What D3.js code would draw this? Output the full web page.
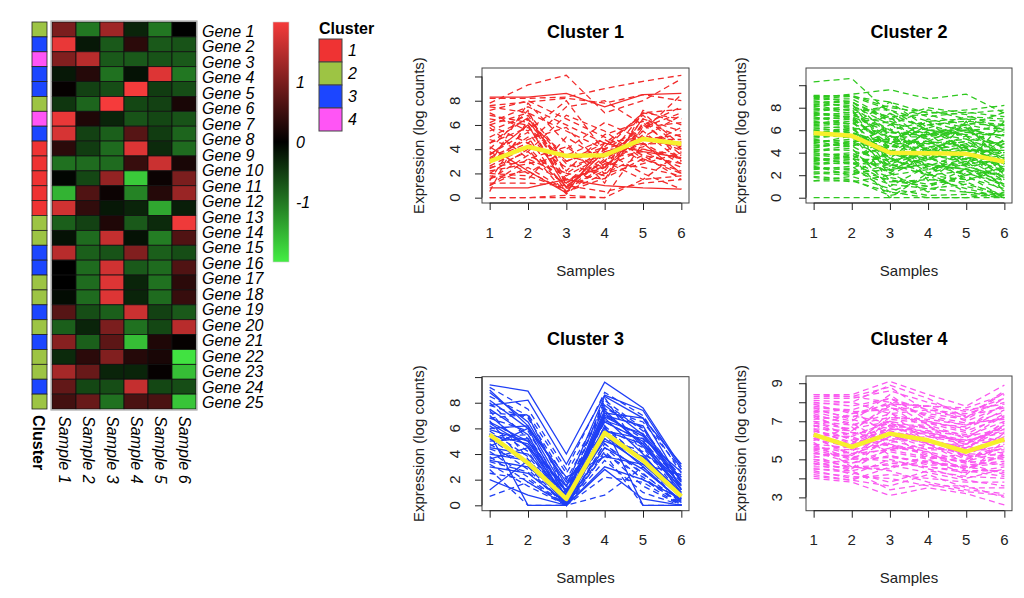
<!DOCTYPE html>
<html>
<head>
<meta charset="utf-8">
<script src="https://cdn.jsdelivr.net/npm/d3@7"></script>
<style>
  body { margin: 0; background: #fff; }
  svg { display: block; font-family: "Liberation Sans", Arial, sans-serif; }
</style>
</head>
<body>
<div id="chart"></div>
<script>
// ---- data ----
const sampleNames = ["Sample 1", "Sample 2", "Sample 3", "Sample 4", "Sample 5", "Sample 6"];
const geneNames = d3.range(1, 26).map(i => "Gene " + i);
const clusterIds = [1, 2, 3, 4];
const clusterColors = ["#ef3333", "#9dc444", "#1c46ff", "#ff55f5"];

// scaled expression per heatmap row (rows top to bottom), one value per sample
const heatValues = [
  [1.0, -1.0, 1.3, -0.3, -1.0, 0.0],
  [1.9, -0.2, -0.75, 0.35, -0.75, -0.7],
  [1.05, 1.5, -0.75, -0.75, -0.7, -0.75],
  [-0.2, 0.3, -0.95, -0.15, 1.8, -1.0],
  [0.05, -0.55, -0.65, 2.0, -0.5, -0.65],
  [-0.45, -0.85, 2.0, -0.6, -0.55, 0.2],
  [1.9, 0.25, -0.3, -0.7, -0.6, -0.7],
  [1.75, -0.55, -0.8, 0.7, -0.5, -0.85],
  [0.35, -0.5, -0.9, 1.8, -0.35, -0.9],
  [-0.95, -0.9, -0.9, 0.45, 1.65, 0.2],
  [-0.05, -0.6, 1.2, -1.7, 0.1, 1.0],
  [-1.5, 0.65, 0.1, -1.1, 0.3, 1.25],
  [1.7, 0.4, -0.2, -0.3, -1.4, -0.25],
  [-0.8, -0.55, 0.25, -0.75, -0.35, 1.95],
  [-0.15, -0.9, 1.6, -0.15, -1.05, 0.65],
  [1.5, -0.8, -0.7, 1.05, -0.8, -0.65],
  [0.0, -0.9, 1.7, -0.75, -0.9, 0.65],
  [0.0, -0.9, 1.8, -0.3, -0.95, 0.35],
  [-0.1, -0.9, 1.8, -0.3, -0.9, 0.45],
  [0.7, -0.65, -0.8, 1.65, -0.55, -0.75],
  [-0.8, -0.3, 1.0, -0.95, -0.6, 1.5],
  [1.1, -0.8, 0.75, -1.6, 0.25, 0.05],
  [-0.35, 0.35, 1.05, 0.3, 0.2, -1.9],
  [1.35, 0.85, -0.3, -0.3, 0.05, -1.6],
  [0.8, -0.6, -0.65, 1.6, -0.6, -0.65],
  [0.55, 0.85, -0.95, 0.6, 0.6, -1.65]
];
const rowClusters = [2, 3, 4, 3, 3, 2, 4, 3, 1, 1, 1, 1, 1, 2, 2, 3, 3, 2, 2, 3, 2, 3, 2, 2, 3, 2];
const colorbarTicks = [1, 0, -1];

// cluster profile panels
const samples = [1, 2, 3, 4, 5, 6];

const cluster1Lines = [
  [8.3, 8.3, 8.6, 7.5, 8.5, 8.6], [8.2, 8.2, 8.3, 9.0, 9.6, 10.1], [7.8, 9.3, 10.1, 7.0, 8.0, 9.8],
  [7.6, 7.9, 8.2, 7.8, 8.5, 8.0], [7.5, 7.0, 5.5, 4.0, 7.0, 7.3], [6.8, 6.2, 3.5, 2.5, 6.5, 5.5],
  [6.2, 7.5, 6.0, 4.5, 5.0, 6.8], [5.5, 6.8, 2.0, 1.5, 6.2, 3.5], [5.0, 6.5, 1.5, 2.5, 4.0, 3.2],
  [4.5, 5.8, 3.0, 4.5, 6.8, 4.0], [4.0, 7.2, 1.0, 3.0, 6.0, 7.5], [3.5, 6.0, 0.8, 3.8, 4.5, 2.0],
  [3.2, 4.5, 2.5, 3.5, 5.5, 3.0], [3.0, 5.0, 0.5, 2.0, 3.5, 1.5], [2.8, 7.8, 4.5, 1.2, 7.2, 6.0],
  [2.5, 3.0, 1.2, 4.0, 4.0, 3.5], [2.2, 2.8, 3.5, 4.8, 3.0, 4.5], [2.0, 4.0, 0.3, 2.8, 2.5, 1.8],
  [1.8, 1.5, 5.0, 3.0, 1.5, 3.8], [1.5, 3.5, 2.0, 4.0, 5.0, 4.2], [1.2, 1.2, 1.0, 0.5, 1.2, 1.5],
  [1.0, 2.5, 0.6, 3.2, 3.8, 2.5], [0.8, 0.8, 1.5, 1.0, 0.8, 0.7], [0.5, 6.5, 3.0, 4.2, 7.0, 6.5],
  [0.0, 0.0, 0.2, 0.0, 1.5, 1.8], [0.0, 0.0, 0.0, 0.0, 4.5, 2.8], [6.0, 4.5, 7.5, 8.0, 6.0, 4.0],
  [4.8, 3.8, 6.8, 5.5, 3.2, 2.2], [3.8, 2.0, 4.0, 6.2, 4.8, 5.2], [7.0, 5.5, 8.0, 3.8, 2.0, 0.7],
  [2.6, 4.2, 0.9, 2.2, 6.5, 3.0], [5.8, 3.2, 1.8, 3.5, 4.2, 5.8], [1.4, 6.2, 2.8, 1.8, 5.8, 7.0],
  [4.2, 2.2, 0.4, 4.5, 3.8, 3.3], [3.3, 4.8, 5.8, 2.5, 4.8, 4.8], [7.2, 8.0, 6.5, 5.0, 3.5, 2.8],
  [2.0, 1.8, 0.7, 2.5, 5.5, 8.5], [6.5, 6.0, 1.2, 3.0, 7.0, 4.3], [1.0, 3.2, 4.2, 2.0, 2.8, 3.7],
  [4.5, 6.6, 2.2, 5.2, 6.3, 5.0], [3.6, 5.4, 1.4, 2.6, 5.2, 3.9], [2.4, 3.8, 0.9, 3.4, 4.4, 4.6],
  [6.0, 7.0, 3.0, 4.0, 5.8, 6.2], [1.6, 2.2, 0.5, 1.6, 3.2, 2.0]
];
const cluster1Mean = [3.0, 4.2, 3.45, 3.5, 4.85, 4.45];

const cluster2Lines = [
  [10.3, 10.6, 7.5, 6.0, 5.5, 4.5], [0.0, 0.0, 0.0, 0.0, 0.0, 0.0], [9.1, 9.0, 8.5, 7.5, 7.8, 8.2],
  [8.9, 9.2, 9.6, 8.8, 9.2, 7.5], [8.7, 8.8, 7.0, 6.5, 6.8, 6.5], [8.5, 8.6, 5.5, 4.5, 5.0, 3.5],
  [8.3, 8.2, 6.5, 7.8, 7.0, 6.0], [8.1, 8.4, 4.0, 3.5, 4.8, 2.5], [7.9, 7.8, 7.8, 6.0, 6.0, 5.5],
  [7.7, 7.9, 3.0, 5.0, 3.5, 4.0], [7.5, 7.4, 6.0, 4.2, 5.5, 2.0], [7.3, 7.6, 5.0, 6.8, 4.0, 5.0],
  [7.1, 7.0, 2.5, 3.0, 2.5, 1.5], [6.9, 7.2, 4.5, 5.5, 6.5, 3.0], [6.7, 6.6, 7.2, 4.0, 3.0, 6.8],
  [6.5, 6.8, 3.5, 2.0, 4.5, 0.5], [6.3, 6.2, 5.8, 5.8, 5.2, 4.8], [6.1, 6.4, 2.0, 3.8, 1.5, 2.8],
  [5.9, 5.8, 4.8, 7.0, 6.2, 3.8], [5.7, 6.0, 6.8, 2.5, 3.2, 1.0], [5.5, 5.4, 3.8, 4.8, 5.8, 5.5],
  [5.3, 5.6, 1.5, 1.0, 2.0, 0.0], [5.1, 5.0, 5.2, 6.2, 4.2, 4.2], [4.9, 5.2, 4.2, 3.2, 6.8, 2.2],
  [4.7, 4.6, 2.8, 5.2, 2.8, 3.2], [4.5, 4.8, 6.2, 1.5, 4.0, 1.8], [4.3, 4.2, 3.2, 4.5, 5.0, 6.0],
  [4.1, 4.4, 1.0, 2.8, 1.0, 0.2], [3.9, 3.8, 4.5, 6.5, 5.5, 2.5], [3.7, 4.0, 2.2, 0.5, 2.2, 1.2],
  [3.5, 3.4, 5.5, 3.5, 3.8, 4.5], [3.3, 3.6, 0.0, 2.2, 0.5, 0.0], [3.1, 3.0, 3.0, 4.0, 4.5, 3.0],
  [2.9, 3.2, 1.8, 1.2, 1.8, 0.8], [2.7, 2.6, 4.0, 5.8, 3.0, 5.2], [2.5, 2.8, 0.5, 1.8, 0.8, 0.0],
  [2.3, 2.2, 2.5, 3.0, 2.5, 2.0], [2.1, 2.4, 1.2, 0.8, 1.2, 0.3], [1.8, 1.4, 2.0, 2.5, 3.5, 1.5],
  [1.5, 1.9, 0.8, 0.2, 0.3, 0.0], [9.0, 8.5, 7.0, 8.0, 7.5, 7.8], [8.0, 7.5, 8.2, 7.2, 7.6, 7.2],
  [7.2, 6.5, 8.5, 6.2, 7.2, 7.0], [6.0, 5.5, 7.5, 5.0, 6.5, 5.8], [5.0, 4.5, 6.5, 5.2, 6.0, 6.2],
  [4.4, 5.0, 5.0, 4.2, 4.8, 3.5], [3.6, 3.0, 3.8, 3.8, 3.2, 3.8], [2.8, 2.0, 4.2, 2.8, 4.0, 2.7],
  [6.6, 7.0, 4.8, 4.8, 5.2, 4.0], [5.6, 6.2, 3.5, 6.0, 4.5, 5.0], [4.8, 5.5, 2.8, 3.5, 2.8, 1.8],
  [7.4, 7.2, 5.8, 5.5, 6.0, 4.5], [3.2, 3.8, 2.2, 4.5, 3.8, 2.2], [6.2, 5.8, 4.2, 3.0, 2.0, 3.2],
  [1.5, 1.5, 0.5, 0.0, 0.0, 0.5], [8.6, 8.0, 6.0, 6.8, 5.8, 6.5],
  [8.8, 9.0, 7.8, 6.8, 7.0, 6.8], [8.4, 8.5, 6.8, 5.6, 6.2, 5.2], [8.2, 7.7, 5.2, 4.8, 4.2, 4.0],
  [7.8, 8.1, 7.2, 7.4, 6.4, 7.6], [7.6, 7.1, 4.4, 2.2, 3.0, 1.2], [7.0, 7.3, 6.6, 6.0, 5.6, 5.6],
  [6.8, 6.3, 3.2, 4.2, 3.6, 2.4], [6.4, 6.6, 5.4, 5.4, 6.0, 4.4], [6.0, 6.1, 4.0, 2.8, 2.6, 3.6],
  [5.8, 5.3, 5.0, 5.0, 4.6, 3.0], [5.4, 5.8, 2.4, 3.4, 4.4, 1.6], [5.2, 4.7, 4.6, 4.4, 3.4, 4.8],
  [4.6, 4.9, 3.6, 2.0, 2.4, 0.6], [4.2, 4.6, 5.8, 5.6, 6.6, 6.4], [3.8, 3.5, 2.6, 3.6, 2.0, 2.6],
  [3.4, 3.1, 1.4, 1.6, 1.4, 0.0], [3.0, 3.4, 3.4, 2.6, 3.0, 3.4], [2.6, 2.5, 1.6, 1.0, 2.6, 1.0],
  [2.2, 2.0, 3.0, 2.0, 1.6, 2.4], [1.9, 1.6, 0.2, 0.8, 0.5, 0.2], [9.0, 9.1, 8.0, 7.6, 7.4, 6.0],
  [4.0, 3.6, 4.6, 3.9, 4.2, 4.2]
];
const cluster2Mean = [5.75, 5.5, 4.0, 3.95, 3.9, 3.2];

const cluster3Lines = [
  [9.4, 8.9, 4.0, 9.6, 7.6, 3.0], [9.2, 7.5, 2.8, 8.8, 7.0, 2.5], [8.8, 6.5, 1.5, 8.5, 6.8, 3.2],
  [8.5, 7.0, 1.0, 8.2, 6.0, 2.0], [8.2, 6.0, 0.5, 7.8, 5.5, 1.5], [7.8, 6.8, 2.0, 7.5, 6.5, 2.8],
  [7.5, 5.5, 0.2, 7.2, 4.8, 1.0], [7.2, 7.0, 1.2, 8.0, 5.8, 2.2], [7.0, 4.5, 0.0, 6.8, 4.0, 0.5],
  [6.8, 5.8, 0.8, 6.5, 5.0, 1.8], [6.5, 5.0, 0.3, 7.0, 6.2, 1.2], [6.2, 4.2, 0.0, 6.2, 3.5, 0.0],
  [6.0, 6.2, 1.8, 5.8, 5.2, 2.6], [5.8, 3.8, 0.5, 6.0, 4.5, 0.8], [5.5, 4.8, 0.0, 5.5, 3.0, 0.3],
  [5.2, 3.2, 0.2, 5.2, 4.2, 1.5], [5.0, 5.2, 1.0, 6.6, 5.6, 2.0], [4.8, 2.8, 0.0, 4.8, 2.5, 0.0],
  [4.5, 4.0, 0.8, 5.0, 3.8, 1.0], [4.2, 2.2, 0.0, 4.5, 2.0, 0.2], [4.0, 3.5, 0.4, 5.8, 4.8, 1.6],
  [3.8, 1.8, 0.0, 4.2, 1.5, 0.0], [3.5, 3.0, 0.6, 5.2, 3.2, 0.6], [3.2, 1.5, 0.0, 4.0, 0.0, 0.0],
  [3.0, 2.5, 0.2, 4.5, 2.8, 0.4], [2.5, 2.0, 0.0, 3.5, 1.0, 0.0], [2.0, 0.8, 0.0, 2.8, 0.5, 0.0],
  [0.7, 1.8, 0.0, 0.8, 3.0, 0.2], [7.8, 8.2, 3.2, 8.6, 7.4, 2.8], [6.8, 7.1, 2.5, 7.6, 6.0, 1.4],
  [5.6, 0.0, 0.0, 6.2, 0.0, 0.0], [8.0, 5.2, 0.0, 7.0, 5.2, 0.8], [4.6, 6.0, 2.2, 3.8, 3.2, 2.4],
  [6.6, 3.0, 0.0, 4.0, 2.2, 0.0], [3.6, 4.5, 1.5, 6.5, 5.0, 1.2], [2.8, 0.0, 0.0, 2.2, 1.8, 0.0],
  [9.0, 6.2, 1.0, 7.2, 6.8, 1.8], [5.4, 5.5, 0.6, 8.4, 4.0, 2.2], [1.2, 3.5, 0.0, 3.0, 2.0, 0.5],
  [7.4, 3.6, 0.3, 5.6, 3.8, 0.9], [6.4, 4.6, 0.7, 7.4, 4.6, 1.3], [4.4, 3.4, 0.2, 6.0, 3.6, 0.7],
  [5.9, 5.0, 1.1, 6.9, 5.4, 1.9], [3.4, 2.6, 0.0, 4.8, 2.4, 0.3]
];
const cluster3Mean = [5.5, 3.3, 0.5, 5.65, 3.5, 0.7];

const cluster4Lines = [
  [8.4, 8.4, 9.1, 8.4, 7.8, 8.9], [8.3, 8.3, 8.8, 7.5, 7.2, 8.5], [8.2, 8.2, 8.6, 8.0, 7.5, 8.2],
  [8.0, 7.8, 8.2, 7.2, 6.8, 7.5], [7.8, 7.5, 7.6, 7.8, 7.0, 7.8], [7.6, 7.2, 8.0, 6.8, 6.2, 7.0],
  [7.4, 6.8, 7.2, 7.0, 6.5, 7.2], [7.2, 6.5, 7.8, 6.5, 5.8, 6.8], [7.0, 6.2, 7.0, 6.2, 6.0, 6.5],
  [6.8, 6.0, 6.8, 6.8, 5.5, 7.0], [6.6, 5.8, 6.5, 6.0, 5.2, 6.2], [6.4, 5.5, 7.5, 5.8, 5.8, 6.0],
  [6.2, 5.2, 6.2, 6.4, 5.0, 5.8], [6.0, 6.4, 6.0, 5.5, 5.5, 5.5], [5.8, 5.0, 6.8, 5.8, 4.8, 6.4],
  [5.6, 5.5, 5.8, 5.2, 4.5, 5.2], [5.4, 4.8, 5.5, 5.8, 5.2, 5.0], [5.2, 4.5, 6.4, 5.0, 4.2, 6.0],
  [5.0, 4.8, 5.2, 4.8, 4.6, 4.8], [4.8, 4.2, 5.0, 4.5, 4.0, 4.5], [4.6, 4.6, 4.5, 5.2, 4.8, 4.2],
  [4.4, 4.0, 4.2, 4.0, 3.8, 3.8], [4.2, 3.9, 3.6, 4.2, 3.5, 3.5], [4.0, 3.8, 3.1, 3.5, 3.2, 2.6],
  [7.9, 8.0, 7.4, 7.6, 7.4, 8.0], [7.5, 7.0, 8.4, 7.0, 6.6, 7.6], [6.9, 6.6, 7.0, 6.6, 6.3, 7.4],
  [6.5, 5.9, 6.6, 6.3, 5.9, 6.7], [6.1, 5.6, 6.3, 5.6, 5.4, 6.3], [5.7, 5.3, 5.9, 6.1, 5.1, 5.6],
  [5.3, 5.1, 5.6, 5.4, 4.9, 5.4], [4.9, 4.4, 4.8, 4.6, 4.3, 4.6], [4.5, 4.3, 3.8, 4.4, 4.1, 4.0],
  [7.7, 7.6, 6.2, 6.0, 5.6, 6.6], [6.3, 6.2, 5.4, 5.0, 5.3, 5.2], [5.9, 4.6, 4.4, 3.8, 3.4, 3.2],
  [7.3, 6.9, 5.8, 5.4, 4.4, 4.4], [6.7, 7.4, 7.7, 7.4, 7.1, 8.2], [5.5, 5.7, 6.7, 6.7, 6.1, 7.3],
  [5.1, 5.4, 7.1, 6.9, 6.4, 5.9], [4.3, 4.1, 4.0, 3.6, 3.6, 3.0], [7.1, 7.3, 6.9, 5.9, 5.7, 5.3],
  [6.0, 6.7, 5.2, 4.7, 4.7, 4.9], [4.7, 5.0, 6.0, 6.2, 5.8, 6.9],
  [8.4, 8.3, 8.0, 7.8, 7.6, 7.9], [8.1, 8.0, 8.9, 8.2, 7.2, 8.6], [7.9, 7.4, 7.9, 7.3, 6.9, 7.1],
  [7.7, 7.1, 6.6, 6.4, 6.0, 6.4], [7.5, 7.6, 8.2, 7.6, 7.3, 7.7], [7.3, 6.4, 6.4, 5.8, 5.0, 5.6],
  [7.0, 6.8, 7.4, 6.9, 6.7, 7.9], [6.8, 6.3, 6.9, 6.4, 5.9, 6.1], [6.5, 6.1, 5.7, 5.3, 4.8, 5.1],
  [6.3, 5.8, 7.2, 7.1, 6.8, 7.2], [6.1, 5.3, 5.5, 5.1, 4.9, 4.7], [5.8, 5.6, 6.1, 5.9, 5.6, 6.8],
  [5.6, 5.1, 4.9, 4.6, 4.4, 4.1], [5.3, 5.2, 6.6, 6.5, 6.2, 6.6], [5.0, 4.6, 4.7, 4.3, 3.9, 3.6],
  [4.8, 4.5, 5.6, 5.6, 5.4, 5.7], [4.5, 4.4, 3.4, 3.7, 3.3, 3.1], [4.1, 3.9, 4.6, 4.9, 4.5, 5.3],
  [6.6, 6.5, 7.9, 7.8, 7.7, 8.4], [5.5, 5.0, 5.1, 4.9, 4.6, 4.3]
];
const cluster4Mean = [6.3, 5.65, 6.35, 6.0, 5.4, 6.05];

// ---- drawing ----
const width = 1024, height = 598;
const svg = d3.select("#chart").append("svg")
    .attr("width", width).attr("height", height);

// heatmap
const hmLeft = 52, hmRight = 196, hmTop = 22, hmBottom = 409;
const xHeat = d3.scaleBand().domain(d3.range(sampleNames.length)).range([hmLeft, hmRight]);
const yHeat = d3.scaleBand().domain(d3.range(heatValues.length)).range([hmTop, hmBottom]);
const yGene = d3.scaleBand().domain(geneNames).range([hmTop, hmBottom]);
const heatColor = d3.scaleLinear().domain([-2, 0, 2]).range(["#44ee44", "#000000", "#f53b3b"]).clamp(true);
const clusterColor = d3.scaleOrdinal().domain(clusterIds).range(clusterColors);

const heat = svg.append("g").attr("class", "heatmap");
heatValues.forEach((row, i) => {
    heat.selectAll(null).data(row).enter().append("rect")
        .attr("x", (d, j) => xHeat(j))
        .attr("y", yHeat(i))
        .attr("width", xHeat.bandwidth())
        .attr("height", yHeat.bandwidth())
        .attr("fill", d => heatColor(d))
        .attr("stroke", "#111")
        .attr("stroke-width", 0.8);
});
heat.append("rect")
    .attr("x", hmLeft - 1).attr("y", hmTop - 1)
    .attr("width", hmRight - hmLeft + 2).attr("height", hmBottom - hmTop + 2)
    .attr("fill", "none").attr("stroke", "#aaa").attr("stroke-width", 1.2);

// cluster side column
heat.selectAll(".side").data(rowClusters).enter().append("rect")
    .attr("class", "side")
    .attr("x", 32).attr("y", (d, i) => yHeat(i))
    .attr("width", 15).attr("height", yHeat.bandwidth())
    .attr("fill", d => clusterColor(d))
    .attr("stroke", "#222").attr("stroke-width", 0.8);

// gene labels
heat.selectAll(".gene").data(geneNames).enter().append("text")
    .attr("class", "gene")
    .attr("x", 202)
    .attr("y", d => yGene(d) + yGene.bandwidth() / 2 + 7)
    .attr("font-size", 16).attr("font-style", "italic")
    .text(d => d);

// bottom labels (rotated)
heat.append("text")
    .attr("transform", "translate(33,415) rotate(90)")
    .attr("font-size", 16).attr("font-weight", "bold")
    .text("Cluster");
heat.selectAll(".sample").data(sampleNames).enter().append("text")
    .attr("class", "sample")
    .attr("transform", (d, j) => `translate(${xHeat(j) + xHeat.bandwidth() / 2 - 5},416) rotate(90)`)
    .attr("font-size", 16).attr("font-style", "italic")
    .text(d => d);

// colour key
const defs = svg.append("defs");
const grad = defs.append("linearGradient").attr("id", "keygrad")
    .attr("x1", 0).attr("y1", 1).attr("x2", 0).attr("y2", 0);
[-2, -1, 0, 1, 2].forEach(v => {
    grad.append("stop").attr("offset", (v + 2) / 4).attr("stop-color", heatColor(v));
});
const yKey = d3.scaleLinear().domain([-2, 2]).range([262, 22]);
svg.append("rect")
    .attr("x", 273).attr("y", yKey(2)).attr("width", 16).attr("height", yKey(-2) - yKey(2))
    .attr("fill", "url(#keygrad)").attr("stroke", "#ccc").attr("stroke-width", 0.6);
svg.selectAll(".keytick").data(colorbarTicks).enter().append("text")
    .attr("class", "keytick")
    .attr("x", 296).attr("y", d => yKey(d) + 6)
    .attr("font-size", 16).attr("font-style", "italic")
    .text(d => d);

// cluster legend
svg.append("text").attr("x", 319).attr("y", 34)
    .attr("font-size", 16).attr("font-weight", "bold").text("Cluster");
const legend = svg.selectAll(".leg").data(clusterIds).enter().append("g")
    .attr("transform", (d, i) => `translate(319,${39 + i * 23})`);
legend.append("rect").attr("width", 23).attr("height", 23)
    .attr("fill", d => clusterColor(d)).attr("stroke", "#444").attr("stroke-width", 1);
legend.append("text").attr("x", 29).attr("y", 17)
    .attr("font-size", 16).attr("font-style", "italic").text(d => d);

// profile panels
const panels = [
  { title: "Cluster 1", lines: cluster1Lines, mean: cluster1Mean, color: "#f22a2a",
    box: [482, 689, 68, 203], yDomain: [-0.44, 10.7], ticks: [0, 2, 4, 6, 8, 10], labels: [0, 2, 4, 6, 8],
    titleY: 37.7, tickY: 237.7, xTitleY: 275.7, yTickX: 460, yTitleX: 423.5, solidEvery: 11 },
  { title: "Cluster 2", lines: cluster2Lines, mean: cluster2Mean, color: "#2ec81e",
    box: [806, 1012, 68, 203], yDomain: [-0.47, 11.53], ticks: [0, 2, 4, 6, 8, 10], labels: [0, 2, 4, 6, 8],
    titleY: 37.7, tickY: 237.7, xTitleY: 275.7, yTickX: 781, yTitleX: 745.7, solidEvery: 0 },
  { title: "Cluster 3", lines: cluster3Lines, mean: cluster3Mean, color: "#1f3ff5",
    box: [482, 689, 376.7, 510.7], yDomain: [-0.42, 10.03], ticks: [0, 2, 4, 6, 8, 10], labels: [0, 2, 4, 6, 8],
    titleY: 345, tickY: 545, xTitleY: 583, yTickX: 460, yTitleX: 423.5, solidEvery: 2 },
  { title: "Cluster 4", lines: cluster4Lines, mean: cluster4Mean, color: "#fa5af0",
    box: [806, 1012, 376, 510.7], yDomain: [2.3, 9.38], ticks: [3, 4, 5, 6, 7, 8, 9], labels: [3, 5, 7, 9],
    titleY: 345, tickY: 545, xTitleY: 583, yTickX: 781.5, yTitleX: 745.7, solidEvery: 0 }
];

panels.forEach(p => {
    const [left, right, top, bottom] = p.box;
    const x = d3.scaleLinear().domain([0.8, 6.2]).range([left, right]);
    const y = d3.scaleLinear().domain(p.yDomain).range([bottom, top]);
    const g = svg.append("g");
    const line = d3.line().x((d, i) => x(samples[i])).y(d => y(d));

    g.selectAll(".gl").data(p.lines).enter().append("path")
        .attr("d", line)
        .attr("fill", "none")
        .attr("stroke", p.color)
        .attr("stroke-width", 1.3)
        .attr("stroke-dasharray", (d, i) => (p.solidEvery && i % p.solidEvery === 0) ? null : "6,4");

    g.append("path").datum(p.mean)
        .attr("d", line)
        .attr("fill", "none")
        .attr("stroke", "#f7ef2c")
        .attr("stroke-width", 4.5)
        .attr("stroke-linejoin", "round");

    // box
    g.append("rect").attr("x", left).attr("y", top)
        .attr("width", right - left).attr("height", bottom - top)
        .attr("fill", "none").attr("stroke", "#444").attr("stroke-width", 1);

    // x axis
    const xAxis = g.append("g").attr("transform", `translate(0,${bottom})`)
        .call(d3.axisBottom(x).tickValues(samples).tickSize(7).tickFormat(""));
    xAxis.select(".domain").remove();
    xAxis.selectAll(".tick line").attr("stroke", "#222");
    g.append("line").attr("x1", x(samples[0])).attr("x2", x(samples[samples.length - 1]))
        .attr("y1", bottom).attr("y2", bottom).attr("stroke", "#222");
    g.selectAll(".xl").data(samples).enter().append("text")
        .attr("x", d => x(d)).attr("y", p.tickY)
        .attr("text-anchor", "middle").attr("font-size", 15).attr("fill", "#222")
        .text(d => d);

    // y axis
    const yAxis = g.append("g").attr("transform", `translate(${left},0)`)
        .call(d3.axisLeft(y).tickValues(p.ticks).tickSize(7).tickFormat(""));
    yAxis.select(".domain").remove();
    yAxis.selectAll(".tick line").attr("stroke", "#222");
    g.append("line").attr("x1", left).attr("x2", left)
        .attr("y1", y(p.ticks[0])).attr("y2", y(p.ticks[p.ticks.length - 1])).attr("stroke", "#222");
    g.selectAll(".yl").data(p.labels).enter().append("text")
        .attr("transform", d => `translate(${p.yTickX},${y(d)}) rotate(-90)`)
        .attr("text-anchor", "middle").attr("font-size", 15).attr("fill", "#222")
        .text(d => d);

    // titles
    g.append("text").attr("x", (left + right) / 2).attr("y", p.titleY)
        .attr("text-anchor", "middle").attr("font-size", 18).attr("font-weight", "bold")
        .text(p.title);
    g.append("text").attr("x", (left + right) / 2).attr("y", p.xTitleY)
        .attr("text-anchor", "middle").attr("font-size", 15).attr("fill", "#222")
        .text("Samples");
    g.append("text")
        .attr("transform", `translate(${p.yTitleX},${(top + bottom) / 2}) rotate(-90)`)
        .attr("text-anchor", "middle").attr("font-size", 15).attr("fill", "#222")
        .text("Expression (log counts)");
});
</script>
</body>
</html>
